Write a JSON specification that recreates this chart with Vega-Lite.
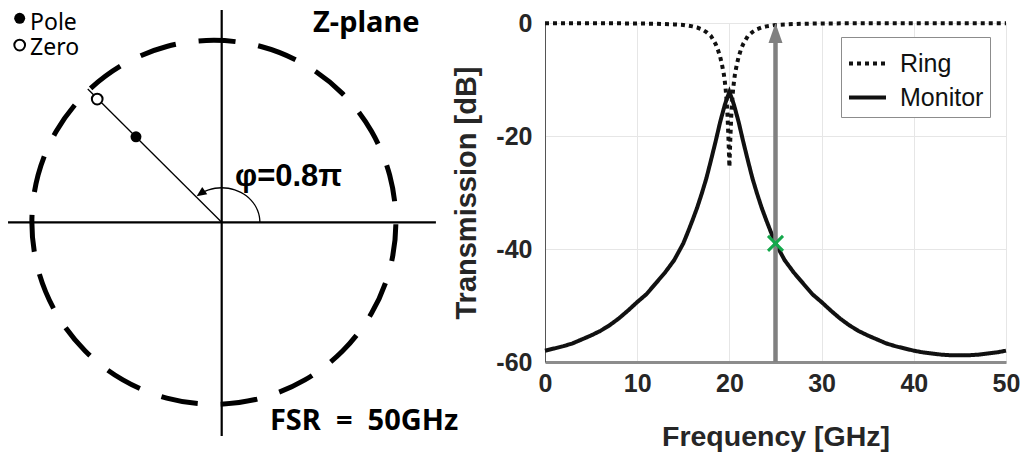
{
"$schema": "https://vega.github.io/schema/vega-lite/v6.json",
"width": 461,
"height": 339,
"autosize": "none",
"padding": {"left": 545, "top": 23, "right": 19, "bottom": 91},
"background": "white",
"config": {
  "view": {"stroke": "#d4d4d4", "strokeWidth": 1},
  "axis": {"labelFont": "Liberation Sans", "titleFont": "Liberation Sans", "labelFontWeight": "bold", "titleFontWeight": "bold", "labelColor": "#262626", "titleColor": "#262626", "labelFontSize": 25, "titleFontSize": 29, "gridColor": "#e6e6e6", "gridWidth": 1, "ticks": false, "labelFlush": false},
  "legend": {"orient": "none", "legendX": 296, "legendY": 14, "strokeColor": "#8c8c8c", "fillColor": "#ffffff", "padding": 6, "rowPadding": -11, "labelFont": "Liberation Sans", "labelFontSize": 25, "labelColor": "#111111", "labelOffset": 12, "symbolType": "stroke", "symbolSize": 1369, "symbolStrokeWidth": 4, "symbolStrokeColor": "#111111"}
},
"datasets": {
  "trans": [
    {"series":"Ring","f":0,"dB":-0.03},{"series":"Ring","f":5,"dB":-0.04},{"series":"Ring","f":10,"dB":-0.08},{"series":"Ring","f":12,"dB":-0.13},{"series":"Ring","f":14,"dB":-0.25},{"series":"Ring","f":15,"dB":-0.35},{"series":"Ring","f":16,"dB":-0.6},{"series":"Ring","f":16.5,"dB":-0.8},{"series":"Ring","f":17,"dB":-1.1},{"series":"Ring","f":17.5,"dB":-1.6},{"series":"Ring","f":18,"dB":-2.3},{"series":"Ring","f":18.5,"dB":-3.7},{"series":"Ring","f":18.75,"dB":-4.7},{"series":"Ring","f":19,"dB":-6.0},{"series":"Ring","f":19.2,"dB":-7.4},{"series":"Ring","f":19.4,"dB":-9.1},{"series":"Ring","f":19.5,"dB":-10.3},{"series":"Ring","f":19.6,"dB":-11.8},{"series":"Ring","f":19.7,"dB":-13.8},{"series":"Ring","f":19.8,"dB":-16.5},{"series":"Ring","f":19.9,"dB":-20.5},{"series":"Ring","f":20,"dB":-25.5},{"series":"Ring","f":20.1,"dB":-20.5},{"series":"Ring","f":20.2,"dB":-16.5},{"series":"Ring","f":20.3,"dB":-13.8},{"series":"Ring","f":20.4,"dB":-11.8},{"series":"Ring","f":20.5,"dB":-10.3},{"series":"Ring","f":20.6,"dB":-9.1},{"series":"Ring","f":20.8,"dB":-7.4},{"series":"Ring","f":21,"dB":-6.0},{"series":"Ring","f":21.25,"dB":-4.7},{"series":"Ring","f":21.5,"dB":-3.7},{"series":"Ring","f":22,"dB":-2.3},{"series":"Ring","f":22.5,"dB":-1.6},{"series":"Ring","f":23,"dB":-1.1},{"series":"Ring","f":23.5,"dB":-0.8},{"series":"Ring","f":24,"dB":-0.6},{"series":"Ring","f":25,"dB":-0.35},{"series":"Ring","f":26,"dB":-0.25},{"series":"Ring","f":28,"dB":-0.13},{"series":"Ring","f":30,"dB":-0.08},{"series":"Ring","f":35,"dB":-0.04},{"series":"Ring","f":40,"dB":-0.03},{"series":"Ring","f":45,"dB":-0.03},{"series":"Ring","f":50,"dB":-0.03},
    {"series":"Monitor","f":0,"dB":-58.0},{"series":"Monitor","f":1,"dB":-57.6},{"series":"Monitor","f":2,"dB":-57.2},{"series":"Monitor","f":3,"dB":-56.7},{"series":"Monitor","f":4,"dB":-56.0},{"series":"Monitor","f":5,"dB":-55.3},{"series":"Monitor","f":6,"dB":-54.5},{"series":"Monitor","f":7,"dB":-53.5},{"series":"Monitor","f":8,"dB":-52.3},{"series":"Monitor","f":9,"dB":-50.9},{"series":"Monitor","f":10,"dB":-49.4},{"series":"Monitor","f":11,"dB":-48.0},{"series":"Monitor","f":12,"dB":-46.1},{"series":"Monitor","f":13,"dB":-44.2},{"series":"Monitor","f":14,"dB":-42.0},{"series":"Monitor","f":15,"dB":-39.0},{"series":"Monitor","f":15.5,"dB":-37.0},{"series":"Monitor","f":16,"dB":-34.9},{"series":"Monitor","f":16.5,"dB":-32.7},{"series":"Monitor","f":17,"dB":-30.2},{"series":"Monitor","f":17.5,"dB":-27.5},{"series":"Monitor","f":18,"dB":-24.3},{"series":"Monitor","f":18.5,"dB":-21.0},{"series":"Monitor","f":19,"dB":-17.5},{"series":"Monitor","f":19.25,"dB":-16.0},{"series":"Monitor","f":19.5,"dB":-14.5},{"series":"Monitor","f":19.75,"dB":-13.3},{"series":"Monitor","f":20,"dB":-12.2},{"series":"Monitor","f":20.25,"dB":-13.3},{"series":"Monitor","f":20.5,"dB":-14.5},{"series":"Monitor","f":20.75,"dB":-16.0},{"series":"Monitor","f":21,"dB":-17.5},{"series":"Monitor","f":21.5,"dB":-21.0},{"series":"Monitor","f":22,"dB":-24.3},{"series":"Monitor","f":22.5,"dB":-27.5},{"series":"Monitor","f":23,"dB":-30.2},{"series":"Monitor","f":23.5,"dB":-32.7},{"series":"Monitor","f":24,"dB":-34.9},{"series":"Monitor","f":24.5,"dB":-37.0},{"series":"Monitor","f":25,"dB":-39.0},{"series":"Monitor","f":26,"dB":-42.0},{"series":"Monitor","f":27,"dB":-44.2},{"series":"Monitor","f":28,"dB":-46.1},{"series":"Monitor","f":29,"dB":-48.0},{"series":"Monitor","f":30,"dB":-49.4},{"series":"Monitor","f":31,"dB":-50.9},{"series":"Monitor","f":32,"dB":-52.3},{"series":"Monitor","f":33,"dB":-53.5},{"series":"Monitor","f":34,"dB":-54.5},{"series":"Monitor","f":35,"dB":-55.3},{"series":"Monitor","f":36,"dB":-56.0},{"series":"Monitor","f":37,"dB":-56.7},{"series":"Monitor","f":38,"dB":-57.2},{"series":"Monitor","f":39,"dB":-57.6},{"series":"Monitor","f":40,"dB":-58.0},{"series":"Monitor","f":41,"dB":-58.3},{"series":"Monitor","f":42,"dB":-58.5},{"series":"Monitor","f":43,"dB":-58.7},{"series":"Monitor","f":44,"dB":-58.8},{"series":"Monitor","f":45,"dB":-58.8},{"series":"Monitor","f":46,"dB":-58.8},{"series":"Monitor","f":47,"dB":-58.7},{"series":"Monitor","f":48,"dB":-58.5},{"series":"Monitor","f":49,"dB":-58.3},{"series":"Monitor","f":50,"dB":-58.0}
  ],
  "ann": [
    {"id":"shaft","f":25,"dB":-60,"dB2":-3},
    {"id":"head","f":25,"dB":0},
    {"id":"cross","f":25,"dB":-39}
  ],
  "circle": [
    {"i":0,"x":-0.043,"y":1},{"i":1,"x":0.216,"y":0.966},{"i":2,"x":0.457,"y":0.866},{"i":3,"x":0.664,"y":0.707},{"i":4,"x":0.823,"y":0.5},{"i":5,"x":0.923,"y":0.259},{"i":6,"x":0.957,"y":0},{"i":7,"x":0.923,"y":-0.259},{"i":8,"x":0.823,"y":-0.5},{"i":9,"x":0.664,"y":-0.707},{"i":10,"x":0.457,"y":-0.866},{"i":11,"x":0.216,"y":-0.966},{"i":12,"x":-0.043,"y":-1},{"i":13,"x":-0.302,"y":-0.966},{"i":14,"x":-0.543,"y":-0.866},{"i":15,"x":-0.75,"y":-0.707},{"i":16,"x":-0.909,"y":-0.5},{"i":17,"x":-1.009,"y":-0.259},{"i":18,"x":-1.043,"y":0},{"i":19,"x":-1.009,"y":0.259},{"i":20,"x":-0.909,"y":0.5},{"i":21,"x":-0.75,"y":0.707},{"i":22,"x":-0.543,"y":0.866},{"i":23,"x":-0.302,"y":0.966}
  ],
  "arc": [
    {"i":0,"x":0.21,"y":0},{"i":1,"x":0.2068,"y":0.033},{"i":2,"x":0.1973,"y":0.065},{"i":3,"x":0.1819,"y":0.095},{"i":4,"x":0.1609,"y":0.1221},{"i":5,"x":0.135,"y":0.1456},{"i":6,"x":0.105,"y":0.1645},{"i":7,"x":0.0718,"y":0.1785},{"i":8,"x":0.0365,"y":0.1871},{"i":9,"x":0,"y":0.19},{"i":10,"x":-0.0365,"y":0.1871},{"i":11,"x":-0.0718,"y":0.1785},{"i":12,"x":-0.105,"y":0.1645},{"i":13,"x":-0.1113,"y":0.1611}
  ],
  "segs": [
    {"kind":"axis","x":-1.174,"y":0,"x2":1.177,"y2":0},
    {"kind":"axis","x":0,"y":-1.174,"x2":0,"y2":1.166},
    {"kind":"ray","x":0,"y":0,"x2":-0.736,"y2":0.732}
  ],
  "pts": [
    {"kind":"arrow","x":-0.1378,"y":0.1434},
    {"kind":"pole","x":-0.471,"y":0.47},
    {"kind":"pole","x":-1.11,"y":1.121},
    {"kind":"zero","x":-0.684,"y":0.677},
    {"kind":"zero","x":-1.11,"y":0.974}
  ],
  "labels": [
    {"kind":"bold","x":0.502,"y":1.047,"label":"Z-plane"},
    {"kind":"phi","x":0.073,"y":0.199,"label":"φ=0.8π"},
    {"kind":"bold","x":0.265,"y":-1.141,"label":"FSR\u00a0\u00a0=\u00a0\u00a050GHz"},
    {"kind":"reg","x":-1.053,"y":1.057,"label":"Pole"},
    {"kind":"reg","x":-1.053,"y":0.922,"label":"Zero"}
  ]
},
"layer": [
  {
    "encoding": {
      "x": {"field":"f","type":"quantitative","scale":{"domain":[0,50],"nice":false,"zero":false},"axis":{"values":[0,10,20,30,40,50],"title":"Frequency [GHz]","titleFontSize":28.5,"labelPadding":9,"titlePadding":26,"domainColor":"#8c8c8c","domainWidth":3,"grid":true,"labelExpr":"'' + datum.value"}},
      "y": {"field":"dB","type":"quantitative","scale":{"domain":[-60,0],"nice":false,"zero":false},"axis":{"values":[0,-20,-40,-60],"title":"Transmission [dB]","labelPadding":13,"titlePadding":14,"domainColor":"#555555","domainWidth":1,"grid":true,"labelExpr":"'' + datum.value"}}
    },
    "layer": [
      {"data":{"name":"trans"},"mark":{"type":"line","strokeWidth":4,"strokeCap":"butt"},
       "encoding":{
         "color":{"field":"series","type":"nominal","scale":{"domain":["Ring","Monitor"],"range":["#111111","#111111"]},"legend":{"title":null}},
         "strokeDash":{"field":"series","type":"nominal","scale":{"domain":["Ring","Monitor"],"range":[[4,4],[1,0]]},"legend":{"title":null}}
       }},
      {"data":{"name":"ann"},"transform":[{"filter":"datum.id == 'shaft'"}],"mark":{"type":"rule","stroke":"#808080","strokeWidth":4.5},
       "encoding":{"y2":{"field":"dB2"}}},
      {"data":{"name":"ann"},"transform":[{"filter":"datum.id == 'head'"}],"mark":{"type":"point","shape":"M0,0L0.7,2L-0.7,2Z","size":400,"filled":true,"color":"#808080","opacity":1}},
      {"data":{"name":"ann"},"transform":[{"filter":"datum.id == 'cross'"}],"mark":{"type":"point","shape":"M-1,-1L1,1M-1,1L1,-1","size":225,"filled":false,"stroke":"#14a84b","strokeWidth":3,"opacity":1}}
    ]
  },
  {
    "encoding": {
      "x": {"field":"x","type":"quantitative","scale":{"domain":[1.7764,4.3094],"nice":false,"zero":false},"axis":null},
      "y": {"field":"y","type":"quantitative","scale":{"domain":[-0.7675,1.0951],"nice":false,"zero":false},"axis":null}
    },
    "layer": [
      {"data":{"name":"circle"},"mark":{"type":"line","interpolate":"cardinal-closed","stroke":"#000000","strokeWidth":5,"strokeDash":[37,23]},
       "encoding":{"order":{"field":"i","type":"quantitative"}}},
      {"data":{"name":"segs"},"transform":[{"filter":"datum.kind == 'axis'"}],"mark":{"type":"rule","stroke":"#000000","strokeWidth":2.2},
       "encoding":{"x2":{"field":"x2"},"y2":{"field":"y2"}}},
      {"data":{"name":"segs"},"transform":[{"filter":"datum.kind == 'ray'"}],"mark":{"type":"rule","stroke":"#000000","strokeWidth":1.3},
       "encoding":{"x2":{"field":"x2"},"y2":{"field":"y2"}}},
      {"data":{"name":"arc"},"mark":{"type":"line","interpolate":"cardinal","stroke":"#000000","strokeWidth":1.3},
       "encoding":{"order":{"field":"i","type":"quantitative"}}},
      {"data":{"name":"pts"},"transform":[{"filter":"datum.kind == 'arrow'"}],"mark":{"type":"point","shape":"M0,0L0.8,1.8L-0.8,1.8Z","size":121,"angle":235,"filled":true,"color":"#000000","opacity":1}},
      {"data":{"name":"pts"},"transform":[{"filter":"datum.kind == 'pole'"}],"mark":{"type":"point","shape":"circle","size":120,"filled":true,"color":"#000000","opacity":1}},
      {"data":{"name":"pts"},"transform":[{"filter":"datum.kind == 'zero'"}],"mark":{"type":"point","shape":"circle","size":115,"filled":true,"fill":"#ffffff","stroke":"#000000","strokeWidth":2,"opacity":1}},
      {"data":{"name":"labels"},"transform":[{"filter":"datum.kind == 'bold'"}],"mark":{"type":"text","font":"Noto Sans","fontWeight":"bold","fontSize":29,"align":"left","baseline":"alphabetic","color":"#000000"},
       "encoding":{"text":{"field":"label"}}},
      {"data":{"name":"labels"},"transform":[{"filter":"datum.kind == 'phi'"}],"mark":{"type":"text","font":"Liberation Sans","fontWeight":"bold","fontSize":31,"align":"left","baseline":"alphabetic","color":"#000000"},
       "encoding":{"text":{"field":"label"}}},
      {"data":{"name":"labels"},"transform":[{"filter":"datum.kind == 'reg'"}],"mark":{"type":"text","font":"Noto Sans","fontSize":23,"align":"left","baseline":"alphabetic","color":"#000000"},
       "encoding":{"text":{"field":"label"}}}
    ]
  }
],
"resolve": {"scale": {"x":"independent","y":"independent"}}
}
